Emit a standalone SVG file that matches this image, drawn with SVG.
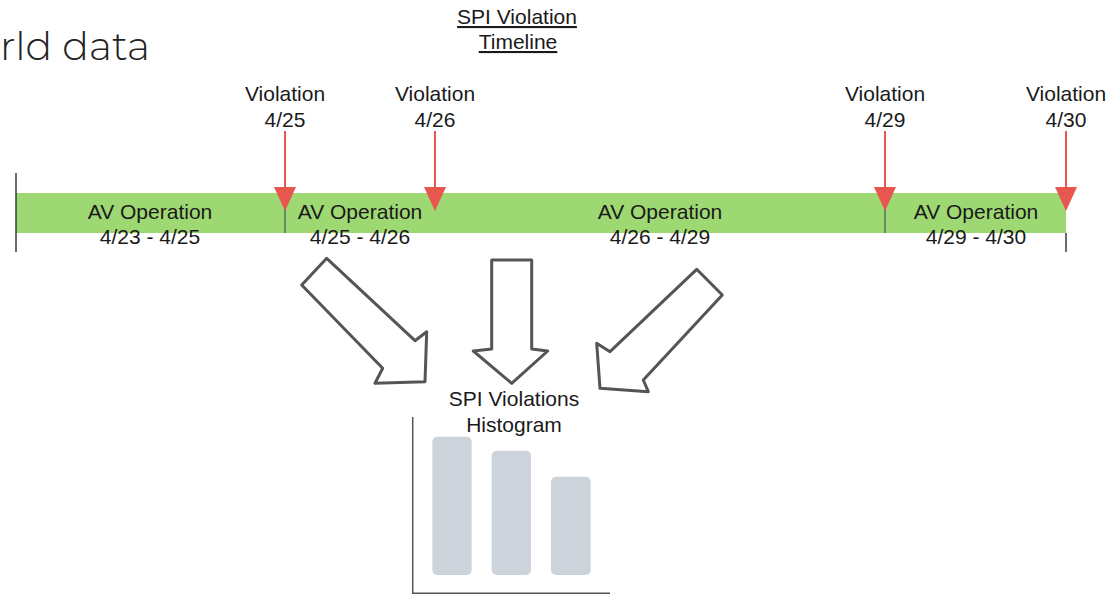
<svg xmlns="http://www.w3.org/2000/svg" width="1120" height="595" viewBox="0 0 1120 595">
<style>
.t{font-family:"Liberation Sans",Arial,sans-serif;font-size:21px;fill:#1a1a1a;text-anchor:middle}
.u{text-decoration:underline}
.red{stroke:#e8574f;stroke-width:2;fill:none}
.head{fill:#e8574f}
.tick{stroke:#2f3a48;stroke-width:1.5}
.div{stroke:#2f3a48;stroke-width:1}
.blk{fill:#fff;stroke:#555;stroke-width:3;stroke-linejoin:round}
.bar{fill:#cdd3db}
.axis{stroke:#555;stroke-width:1.5}
</style>
<rect width="1120" height="595" fill="#fff"/>
<text x="0" y="60" font-family="Montserrat,'Noto Sans',sans-serif" font-size="40" font-weight="300" fill="#222" textLength="150" lengthAdjust="spacingAndGlyphs">rld data</text>
<g id="title">
<text class="t u" x="517" y="24">SPI Violation</text>
<text class="t u" x="518" y="49">Timeline</text>
</g>
<g id="timeline">
<rect x="16" y="193" width="1050" height="40" fill="#9ed872"/>
<line class="tick" x1="16" y1="173" x2="16" y2="252"/>
<line class="tick" x1="1066" y1="233" x2="1066" y2="252"/>
<line class="div" x1="285" y1="205" x2="285" y2="233"/>
<line class="div" x1="885" y1="205" x2="885" y2="233"/>
</g>
<g id="seg1"><text class="t" x="150" y="219">AV Operation</text><text class="t" x="150" y="244">4/23 - 4/25</text></g>
<g id="seg2"><text class="t" x="360" y="219">AV Operation</text><text class="t" x="360" y="244">4/25 - 4/26</text></g>
<g id="seg3"><text class="t" x="660" y="219">AV Operation</text><text class="t" x="660" y="244">4/26 - 4/29</text></g>
<g id="seg4"><text class="t" x="976" y="219">AV Operation</text><text class="t" x="976" y="244">4/29 - 4/30</text></g>
<g id="v1"><text class="t" x="285" y="101">Violation</text><text class="t" x="285" y="127">4/25</text></g>
<g id="v2"><text class="t" x="435" y="101">Violation</text><text class="t" x="435" y="127">4/26</text></g>
<g id="v3"><text class="t" x="885" y="101">Violation</text><text class="t" x="885" y="127">4/29</text></g>
<g id="v4"><text class="t" x="1066" y="101">Violation</text><text class="t" x="1066" y="127">4/30</text></g>
<g id="connectors">
<line class="red" x1="285" y1="131" x2="285" y2="190"/><polygon class="head" points="274,187 296,187 285,211"/>
<line class="red" x1="435" y1="131" x2="435" y2="190"/><polygon class="head" points="424,187 446,187 435,211"/>
<line class="red" x1="885" y1="131" x2="885" y2="190"/><polygon class="head" points="874,187 896,187 885,211"/>
<line class="red" x1="1066" y1="131" x2="1066" y2="190"/><polygon class="head" points="1055,187 1077,187 1066,211"/>
<polygon class="blk" points="326.7,258.3 301.7,285 382.7,368.3 375,383.3 425,381.7 426.7,331.7 415,340.7"/>
<polygon class="blk" points="491.7,260 531.7,260 531.7,349 547.7,351 511.7,383.3 473.3,351 491.7,349"/>
<polygon class="blk" points="696.7,269.3 722.3,295 643.3,380 648.3,391.7 600,388.3 596.7,343.3 610,351.7"/>
</g>
<g id="histogram">
<text class="t" x="514" y="406">SPI Violations</text>
<text class="t" x="514" y="432">Histogram</text>
<line class="axis" x1="412.7" y1="417" x2="412.7" y2="594"/>
<line class="axis" x1="412" y1="593.3" x2="610" y2="593.3"/>
<rect class="bar" x="432.3" y="436.7" width="39.4" height="138.3" rx="5"/>
<rect class="bar" x="491.7" y="450.7" width="39.3" height="124.3" rx="5"/>
<rect class="bar" x="551" y="476.7" width="39.7" height="98.3" rx="5"/>
</g>
</svg>
